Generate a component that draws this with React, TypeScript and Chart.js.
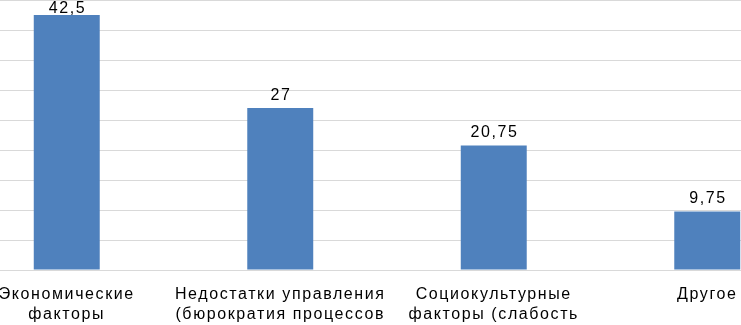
import React, { useEffect, useRef } from "react";
import { Chart, registerables } from "chart.js";

Chart.register(...registerables);

const categories: string[][] = [
  ["Экономические", "факторы"],
  ["Недостатки управления", "(бюрократия процессов"],
  ["Социокультурные", "факторы (слабость"],
  ["Другое"],
];
const values: number[] = [42.5, 27, 20.75, 9.75];
const yMin = 0;
const yMax = 45;
const yStep = 5;

const FONT = "'Liberation Sans', Arial, sans-serif";
const SPACING = "1.6px";

const letterSpacingPlugin = {
  id: "letterSpacing",
  beforeDraw(chart: any) {
    (chart.ctx as any).letterSpacing = SPACING;
  },
  afterDraw(chart: any) {
    (chart.ctx as any).letterSpacing = "0px";
  },
};

const valueLabels = {
  id: "valueLabels",
  afterDatasetsDraw(chart: any) {
    const ctx = chart.ctx;
    const meta = chart.getDatasetMeta(0);
    const ds = chart.data.datasets[0];
    ctx.save();
    (ctx as any).letterSpacing = SPACING;
    ctx.font = `16px ${FONT}`;
    ctx.fillStyle = "#000000";
    ctx.textAlign = "center";
    ctx.textBaseline = "alphabetic";
    meta.data.forEach((bar: any, i: number) => {
      const v = ds.data[i] as number;
      const text = String(v).replace(".", ",");
      let y = bar.y - 8.5;
      const minY = chart.chartArea.top + 12.5;
      if (y < minY) y = minY;
      ctx.fillText(text, bar.x + 0.8, y);
    });
    ctx.restore();
  },
};

export default function App() {
  const ref = useRef<HTMLCanvasElement | null>(null);
  useEffect(() => {
    if (!ref.current) return;
    const chart = new Chart(ref.current, {
      type: "bar",
      data: {
        labels: categories,
        datasets: [
          {
            data: values,
            backgroundColor: "#4f81bd",
            borderWidth: 0,
            categoryPercentage: 1,
            barPercentage: 0.309,
          },
        ],
      },
      options: {
        responsive: false,
        animation: false,
        devicePixelRatio: 1,
        layout: { padding: { top: 10, left: 0, right: 0, bottom: 0 } },
        plugins: {
          legend: { display: false },
          tooltip: { enabled: false },
          title: { display: false },
        },
        scales: {
          x: {
            grid: { display: false, drawTicks: false },
            border: { display: false },
            ticks: {
              color: "#000000",
              font: { family: FONT, size: 16, lineHeight: 1.27 },
              padding: 14,
              maxRotation: 0,
              minRotation: 0,
              autoSkip: false,
            },
            afterFit: (scale: any) => {
              scale.height = 60;
            },
          },
          y: {
            min: yMin,
            max: yMax,
            ticks: { stepSize: yStep, display: false },
            grid: { color: "#d9d9d9", lineWidth: 1, drawTicks: false },
            border: { display: false },
          },
        },
      },
      plugins: [letterSpacingPlugin, valueLabels],
    });
    return () => chart.destroy();
  }, []);

  return (
    <div
      style={{
        position: "fixed",
        left: 0,
        top: 0,
        width: 741,
        height: 325,
        overflow: "hidden",
        background: "#ffffff",
      }}
    >
      <canvas
        ref={ref}
        width={854}
        height={340}
        style={{ position: "absolute", left: -40, top: -10, width: 854, height: 340 }}
      />
    </div>
  );
}
